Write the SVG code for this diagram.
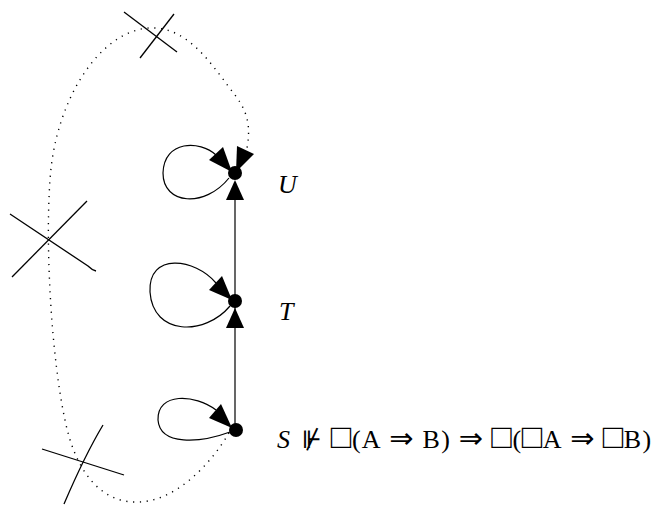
<svg xmlns="http://www.w3.org/2000/svg" width="654" height="505" viewBox="0 0 654 505">
<style>
.edge{fill:none;stroke:#000;stroke-width:1.2}
.dot{fill:none;stroke:#000;stroke-width:1.4;stroke-dasharray:1.2 5.6}
.cross{fill:none;stroke:#000;stroke-width:1.3}
.head{fill:#000;stroke:none}
.node{fill:#000}
.lbl{font-family:"Liberation Serif","DejaVu Serif",serif;font-size:26px;fill:#000}
.it{font-style:italic}
.c{text-anchor:middle}
.sq{font-size:34px}
.rel{font-family:"DejaVu Serif","Liberation Serif",serif;font-size:24px}
.imp{font-family:"DejaVu Sans","DejaVu Serif",sans-serif;font-size:29px}
</style>
<rect width="654" height="505" fill="#fff"/>
<g id="connectors">
  <path class="edge" d="M235,430 L235,200"/>
  <polygon class="head" points="226,328 244,328 235,308"/>
  <polygon class="head" points="226,200 244,200 235,180"/>
  <path class="edge" d="M229,178 C205,208 163,205 163,173 C164,140 200,140 216,155"/>
  <polygon class="head" points="209,160 223,147 232,172"/>
  <path class="edge" d="M230,306 C205,336 153,336 150,292 C148,252 195,258 216,283"/>
  <polygon class="head" points="209,290 222,276 232,300"/>
  <path class="edge" d="M230,432 C200,443 160,446 158,420 C157,392 195,394 216,410"/>
  <polygon class="head" points="209,418 221,404 232,428"/>
  <path class="dot" d="M229,433 C210,465 175,502 137,502 C100,503 75,470 65,420 C52,360 45,250 50,180 C55,100 100,30 150,28 C190,26 215,70 235,95 C250,115 250,130 247,148"/>
  <polygon class="head" points="237,146 254,154 236,172"/>
  <g id="crosses">
    <path class="cross" d="M124,12 L177,52"/>
    <path class="cross" d="M174,14 L140,58"/>
    <path class="cross" d="M10,214 L88,266 Q92,270 96,271"/>
    <path class="cross" d="M12,277 L87,201"/>
    <path class="cross" d="M42,449 L124,475"/>
    <path class="cross" d="M64,504 Q85,455 103,425"/>
  </g>
</g>
<g id="node-U">
  <circle class="node" cx="235" cy="173" r="7"/>
  <text class="lbl it" x="278" y="193">U</text>
</g>
<g id="node-T">
  <circle class="node" cx="235" cy="301" r="7"/>
  <text class="lbl it" x="279" y="320">T</text>
</g>
<g id="node-S">
  <circle class="node" cx="236" cy="430" r="7"/>
  <text class="lbl" y="448"><tspan class="it" x="277">S</tspan><tspan class="c rel" x="312">⊮</tspan><tspan class="c sq" x="341">□</tspan><tspan class="c" x="356.3">(</tspan><tspan class="c" x="371.2">A</tspan><tspan class="c imp" x="401.5">⇒</tspan><tspan class="c" x="431.2">B</tspan><tspan class="c" x="445.5">)</tspan><tspan class="c imp" x="471">⇒</tspan><tspan class="c sq" x="501.6">□</tspan><tspan class="c" x="516.8">(</tspan><tspan class="c sq" x="532.1">□</tspan><tspan class="c" x="552.1">A</tspan><tspan class="c imp" x="582.3">⇒</tspan><tspan class="c sq" x="612.9">□</tspan><tspan class="c" x="632.4">B</tspan><tspan class="c" x="646.8">)</tspan></text>
</g>
</svg>
